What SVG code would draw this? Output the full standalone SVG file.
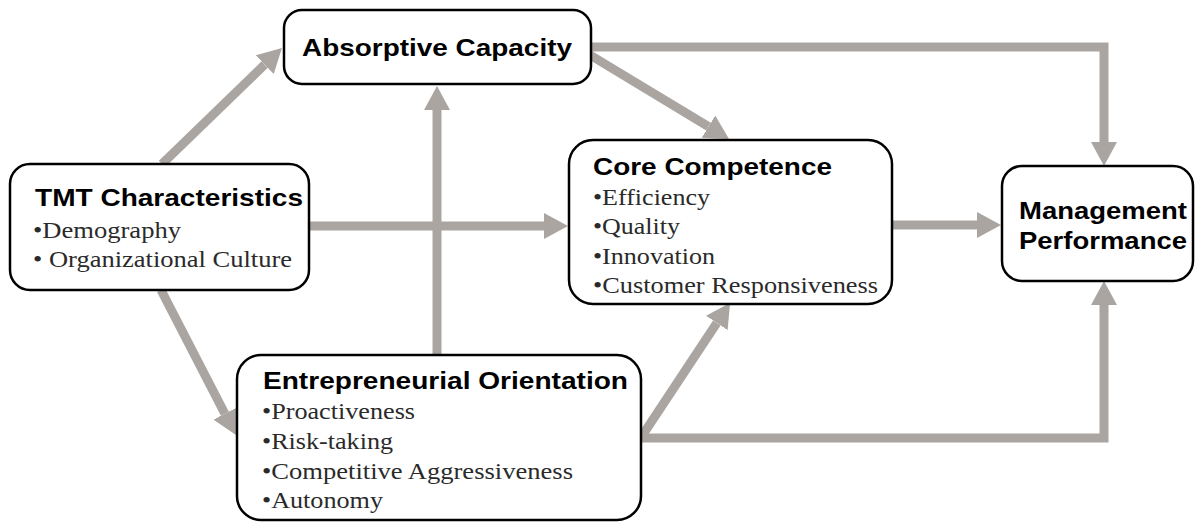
<svg xmlns="http://www.w3.org/2000/svg" width="1198" height="524" viewBox="0 0 1198 524">
<style>
.box{fill:#fff;stroke:#000;stroke-width:2.5}
.title{font-family:"Liberation Sans",Arial,sans-serif;font-weight:bold;font-size:24px;fill:#000}
.item{font-family:"Liberation Serif","Times New Roman",serif;font-size:23.5px;fill:#2a2a2a}
.conn{fill:none;stroke:#aba5a2;stroke-width:9;stroke-linejoin:miter}
</style>
<defs>
<marker id="ah" markerUnits="userSpaceOnUse" viewBox="0 0 24 26" refX="0" refY="13" markerWidth="24" markerHeight="26" orient="auto">
<path d="M0,0 L24,13 L0,26 Z" fill="#aba5a2"/>
</marker>
</defs>
<rect width="1198" height="524" fill="#fff"/>
<g id="connectors">
<line class="conn" x1="162" y1="164" x2="264.7" y2="64.6" marker-end="url(#ah)"/>
<line class="conn" x1="310" y1="226" x2="544" y2="226" marker-end="url(#ah)"/>
<line class="conn" x1="161" y1="290" x2="224.9" y2="413.7" marker-end="url(#ah)"/>
<line class="conn" x1="437" y1="356" x2="437" y2="110" marker-end="url(#ah)"/>
<line class="conn" x1="590" y1="55" x2="708.5" y2="126.6" marker-end="url(#ah)"/>
<polyline class="conn" points="592,47 1104,47 1104,142" marker-end="url(#ah)"/>
<line class="conn" x1="893" y1="225" x2="977" y2="225" marker-end="url(#ah)"/>
<line class="conn" x1="642" y1="436" x2="716.8" y2="323" marker-end="url(#ah)"/>
<polyline class="conn" points="641,438 1104,438 1104,305" marker-end="url(#ah)"/>
</g>
<g id="absorptive">
<rect class="box" x="284" y="10" width="307" height="74" rx="18"/>
<text class="title" x="302" y="56" textLength="270" lengthAdjust="spacingAndGlyphs">Absorptive Capacity</text>
</g>
<g id="tmt">
<rect class="box" x="10" y="164" width="299" height="126" rx="20"/>
<text class="title" x="35" y="206" textLength="268" lengthAdjust="spacingAndGlyphs">TMT Characteristics</text>
<text class="item" x="33" y="238" textLength="148" lengthAdjust="spacingAndGlyphs">•Demography</text>
<text class="item" x="33" y="267" textLength="259" lengthAdjust="spacingAndGlyphs">• Organizational Culture</text>
</g>
<g id="core">
<rect class="box" x="569" y="140" width="323" height="164" rx="24"/>
<text class="title" x="593" y="175" textLength="239" lengthAdjust="spacingAndGlyphs">Core Competence</text>
<text class="item" x="593" y="205" textLength="117" lengthAdjust="spacingAndGlyphs">•Efficiency</text>
<text class="item" x="593" y="234" textLength="87" lengthAdjust="spacingAndGlyphs">•Quality</text>
<text class="item" x="593" y="264" textLength="122" lengthAdjust="spacingAndGlyphs">•Innovation</text>
<text class="item" x="593" y="293" textLength="285" lengthAdjust="spacingAndGlyphs">•Customer Responsiveness</text>
</g>
<g id="management">
<rect class="box" x="1002" y="166" width="191" height="115" rx="20"/>
<text class="title" x="1019" y="219" textLength="168" lengthAdjust="spacingAndGlyphs">Management</text>
<text class="title" x="1019" y="249" textLength="168" lengthAdjust="spacingAndGlyphs">Performance</text>
</g>
<g id="entrepreneurial">
<rect class="box" x="237" y="355" width="404" height="165" rx="24"/>
<text class="title" x="263" y="389" textLength="365" lengthAdjust="spacingAndGlyphs">Entrepreneurial Orientation</text>
<text class="item" x="262" y="419" textLength="153" lengthAdjust="spacingAndGlyphs">•Proactiveness</text>
<text class="item" x="262" y="449" textLength="131" lengthAdjust="spacingAndGlyphs">•Risk-taking</text>
<text class="item" x="262" y="479" textLength="311" lengthAdjust="spacingAndGlyphs">•Competitive Aggressiveness</text>
<text class="item" x="262" y="508" textLength="121" lengthAdjust="spacingAndGlyphs">•Autonomy</text>
</g>
</svg>
